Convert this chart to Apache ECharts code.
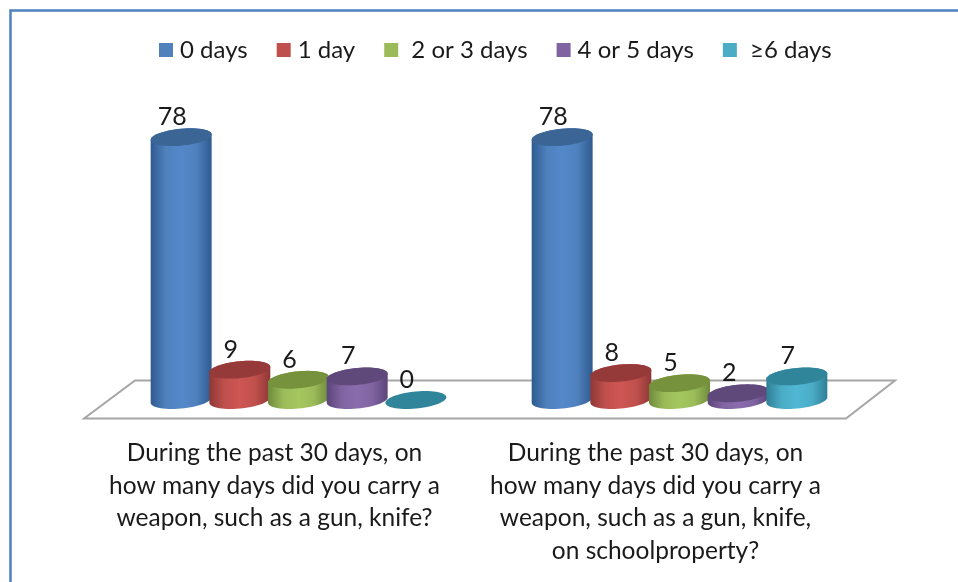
<!DOCTYPE html>
<html><head><meta charset="utf-8">
<style>html,body{margin:0;padding:0;background:#fff}#c{width:958px;height:582px}</style>
<script src="https://cdn.jsdelivr.net/npm/echarts@6/dist/echarts.min.js"></script>
</head><body><div id="c"></div>
<script>
const categories = [
  "During the past 30 days, on\nhow many days did you carry a\nweapon, such as a gun, knife?",
  "During the past 30 days, on\nhow many days did you carry a\nweapon, such as a gun, knife,\non schoolproperty?"
];
const seriesNames = ["0 days", "1 day", "2 or 3 days", "4 or 5 days", "≥6 days"];
const days0 = [78, 78];
const day1 = [9, 8];
const days2to3 = [6, 5];
const days4to5 = [7, 2];
const days6plus = [0, 7];
const seriesValues = [days0, day1, days2to3, days4to5, days6plus];
const baseColors = ["#4F81BD", "#C0504D", "#9BBB59", "#8064A2", "#4BACC6"];
const lightColors = ["#5388CB", "#CE5653", "#A5C75F", "#8A6CAD", "#50B8D3"];
const edgeColors = ["#2F5A90", "#8E3836", "#6F8A3C", "#5B4579", "#2F7F96"];
const capColors = ["#3A6594", "#953A38", "#76923C", "#5F497A", "#31859B"];
const FONT = "Lato, Carlito, 'Open Sans', sans-serif";

const chart = echarts.init(document.getElementById('c'), null, {renderer:'canvas'});

function ellipsePts(cx, cy, rx, ry, k, from, to, n) {
  const pts = [];
  for (let j = 0; j <= n; j++) {
    const t = from + (to - from) * j / n;
    const dx = rx * Math.cos(t);
    pts.push([cx + dx, cy + ry * Math.sin(t) - k * dx]);
  }
  return pts;
}

function makeRender(si) {
  return function (params, api) {
    const cat = api.value(0), val = api.value(1);
    const band = api.size([1, 0])[0];
    const base = api.coord([cat, 0]);
    const top = api.coord([cat, val]);
    const depth = band * 0.063;
    const cx = base[0] + depth + (si - 2) * band * 0.154;
    const rx = band * 0.08, ry = 8.5, k = 0.09;
    const children = [];
    if (val > 0) {
      const lower = ellipsePts(cx, base[1], rx, ry, k, 0, Math.PI, 30);
      const upper = ellipsePts(cx, top[1], rx, ry, k, Math.PI, 2 * Math.PI, 30);
      children.push({
        type: 'polygon',
        shape: {points: lower.concat(upper)},
        style: {fill: new echarts.graphic.LinearGradient(0, 0, 1, 0, [
          {offset: 0, color: edgeColors[si]},
          {offset: 0.25, color: baseColors[si]},
          {offset: 0.5, color: lightColors[si]},
          {offset: 0.75, color: baseColors[si]},
          {offset: 1, color: edgeColors[si]}
        ])}
      });
    }
    children.push({
      type: 'polygon',
      shape: {points: ellipsePts(cx, top[1], rx, ry, k, 0, 2 * Math.PI, 60)},
      style: {fill: capColors[si]}
    });
    children.push({
      type: 'text',
      style: {
        text: String(val), x: cx - 9, y: top[1] - 20,
        align: 'center', verticalAlign: 'middle',
        font: "25px " + FONT, fill: '#1a1a1a'
      }
    });
    return {type: 'group', children};
  };
}

chart.setOption({
  animation: false,
  backgroundColor: '#fff',
  textStyle: {fontFamily: FONT},
  legend: {
    top: 33, left: 154, itemWidth: 14, itemHeight: 14, itemGap: 29, icon: 'rect',
    formatter: name => (name === "2 or 3 days" || name === "≥6 days") ? " " + name : name,
    textStyle: {fontSize: 24, color: '#1a1a1a', fontFamily: FONT, padding: [0, 0, 0, 2]},
    data: seriesNames
  },
  grid: {left: 84, width: 762, top: 130.4, bottom: 182},
  xAxis: {
    type: 'category', data: categories,
    axisLine: {show: false}, axisTick: {show: false},
    axisLabel: {interval: 0, margin: 37, fontSize: 24.5, lineHeight: 32.5, color: '#1a1a1a', fontFamily: FONT, verticalAlign: 'top'}
  },
  yAxis: {type: 'value', min: 0, max: 80, show: false, splitLine: {show: false}},
  graphic: [
    {type: 'polyline', shape: {points: [[10.5, 582], [10.5, 10.5], [958, 10.5]]},
     style: {stroke: '#4F81BD', lineWidth: 2.5, fill: null}, z: 0},
    {type: 'polygon', shape: {points: [[84, 418.5], [135, 380.5], [895, 380.5], [846, 418.5]]},
     style: {stroke: '#A6A6A6', lineWidth: 2, fill: '#fff'}, z: 0}
  ],
  series: seriesNames.map((name, si) => ({
    name, type: 'custom', z: 2 + si,
    coordinateSystem: 'cartesian2d',
    itemStyle: {color: baseColors[si]},
    encode: {x: 0, y: 1},
    data: seriesValues[si].map((v, c) => [c, v]),
    renderItem: makeRender(si)
  }))
});
</script></body></html>
